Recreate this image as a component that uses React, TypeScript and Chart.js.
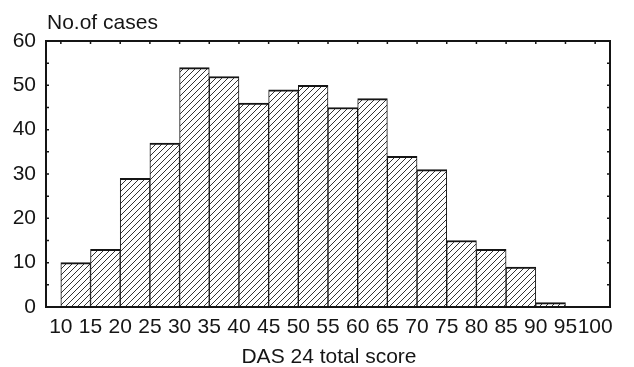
import { useEffect, useRef } from "react";
import { Chart, registerables } from "chart.js";

Chart.register(...registerables);

// ---- data ----
const binStarts = [10, 15, 20, 25, 30, 35, 40, 45, 50, 55, 60, 65, 70, 75, 80, 85, 90];
const binWidth = 5;
const caseCounts = [10, 13, 29, 37, 54, 52, 46, 49, 50, 45, 47, 34, 31, 15, 13, 9, 1];
const xMin = 10;
const xMax = 100;
const yMin = 0;
const yMax = 60;
const yTitle = "No.of cases";
const xTitle = "DAS 24 total score";

const INK = "#151515";
const FONT = "'Liberation Sans', Arial, Helvetica, sans-serif";

function makeHatch(): CanvasPattern | string {
  const c = document.createElement("canvas");
  c.width = 6;
  c.height = 6;
  const ctx = c.getContext("2d");
  if (!ctx) return "#fff";
  ctx.fillStyle = "#fff";
  ctx.fillRect(0, 0, 6, 6);
  ctx.strokeStyle = "#333";
  ctx.lineWidth = 1;
  ctx.beginPath();
  ctx.moveTo(0, 6);
  ctx.lineTo(6, 0);
  ctx.moveTo(-3, 3);
  ctx.lineTo(3, -3);
  ctx.moveTo(3, 9);
  ctx.lineTo(9, 3);
  ctx.stroke();
  return ctx.createPattern(c, "repeat") || "#fff";
}

const framePlugin = {
  id: "frameAndTicks",
  afterDraw(chart: any) {
    const { ctx, chartArea, scales } = chart;
    const { left, right, top, bottom } = chartArea;
    const x = scales.x;
    const y = scales.y;
    ctx.save();
    ctx.strokeStyle = INK;
    ctx.lineWidth = 2;
    ctx.strokeRect(left, top, right - left, bottom - top);
    ctx.lineWidth = 1.5;
    ctx.beginPath();
    for (let v = xMin; v <= xMax; v += binWidth) {
      const px = x.getPixelForValue(v);
      ctx.moveTo(px, top);
      ctx.lineTo(px, top + 3);
    }
    for (let v = yMin; v <= yMax; v += 5) {
      const py = y.getPixelForValue(v);
      ctx.moveTo(left, py);
      ctx.lineTo(left + 3, py);
      ctx.moveTo(right, py);
      ctx.lineTo(right - 3, py);
    }
    ctx.stroke();
    ctx.fillStyle = INK;
    ctx.font = `21px ${FONT}`;
    ctx.textBaseline = "alphabetic";
    ctx.textAlign = "left";
    ctx.fillText(yTitle, left + 1, top - 12);
    ctx.textAlign = "center";
    ctx.fillText(xTitle, (left + right) / 2 + 1, bottom + 56);
    ctx.restore();
  },
};

export default function App() {
  const ref = useRef<HTMLCanvasElement | null>(null);

  useEffect(() => {
    if (!ref.current) return;
    const hatch = makeHatch();
    const chart = new Chart(ref.current, {
      type: "bar",
      data: {
        datasets: [
          {
            data: binStarts.map((s, i) => ({ x: s + binWidth / 2, y: caseCounts[i] })),
            backgroundColor: hatch as any,
            borderColor: INK,
            borderWidth: { top: 2, left: 1, right: 1, bottom: 0 } as any,
            borderSkipped: false,
            barPercentage: 1,
            categoryPercentage: 1,
          },
        ],
      },
      options: {
        animation: false,
        responsive: true,
        maintainAspectRatio: false,
        layout: { padding: { top: 41, right: 24, left: 0, bottom: 0 } },
        plugins: {
          legend: { display: false },
          tooltip: { enabled: false },
        },
        scales: {
          x: {
            type: "linear",
            min: xMin,
            max: xMax,
            grid: { display: false, drawTicks: false },
            border: { display: false },
            ticks: {
              stepSize: binWidth,
              autoSkip: false,
              maxRotation: 0,
              padding: 8,
              color: INK,
              font: { family: FONT, size: 21 },
            },
            afterFit(scale: any) {
              scale.height = 60;
            },
          },
          y: {
            min: yMin,
            max: yMax,
            grid: { display: false, drawTicks: false },
            border: { display: false },
            ticks: {
              stepSize: 10,
              padding: 10,
              color: INK,
              font: { family: FONT, size: 21 },
            },
            afterFit(scale: any) {
              scale.width = 46;
            },
          },
        },
      },
      plugins: [framePlugin],
    });
    return () => chart.destroy();
  }, []);

  return (
    <div style={{ position: "fixed", left: 0, top: 0, width: 634, height: 367, background: "#fff" }}>
      <canvas ref={ref} />
    </div>
  );
}
